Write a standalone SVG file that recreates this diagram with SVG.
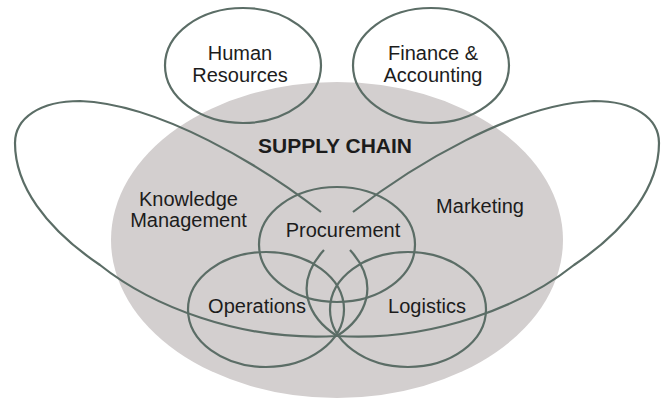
<svg xmlns="http://www.w3.org/2000/svg" width="666" height="398" viewBox="0 0 666 398">
<style>
.c{fill:none;stroke:#5b6d66;stroke-width:2.2}
.t{font-family:"Liberation Sans",Arial,sans-serif;font-size:20px;fill:#1c1c1c;text-anchor:middle}
.b{font-weight:bold;font-size:21px}
</style>
<rect width="666" height="398" fill="#ffffff"/>
<g id="supply-chain">
<ellipse cx="337" cy="240" rx="226" ry="158" fill="#d3cfcf"/>
<text class="t b" x="335" y="153">SUPPLY CHAIN</text>
</g>
<g id="human-resources">
<ellipse class="c" cx="243" cy="65.5" rx="78" ry="57.5"/>
<text class="t" x="240" y="60">Human</text>
<text class="t" x="240" y="82">Resources</text>
</g>
<g id="finance-accounting">
<ellipse class="c" cx="431" cy="65.5" rx="78" ry="57.5"/>
<text class="t" x="433" y="60">Finance &amp;</text>
<text class="t" x="433" y="82">Accounting</text>
</g>
<g id="connectors">
<path class="c" d="M321,212 C262,166 160,104 80,101 C40,101 15,118 15,143 C15,185 45,228 100,265 C150,305 240,342 337,336 C365,318 382,285 350,250"/>
<path class="c" d="M353,212 C412,166 514,104 594,101 C634,101 659,118 659,143 C659,185 629,228 574,265 C524,305 434,342 337,336 C309,318 292,285 324,250"/>
</g>
<g id="knowledge-management">
<text class="t" x="188.5" y="206">Knowledge</text>
<text class="t" x="188.5" y="227">Management</text>
</g>
<g id="marketing">
<text class="t" x="480" y="213">Marketing</text>
</g>
<g id="procurement">
<ellipse class="c" cx="337" cy="244.5" rx="78" ry="57.5"/>
<text class="t" x="343" y="237">Procurement</text>
</g>
<g id="operations">
<ellipse class="c" cx="266" cy="309.5" rx="78" ry="57.5"/>
<text class="t" x="257" y="313">Operations</text>
</g>
<g id="logistics">
<ellipse class="c" cx="408" cy="309.5" rx="78" ry="57.5"/>
<text class="t" x="427" y="313">Logistics</text>
</g>
</svg>
